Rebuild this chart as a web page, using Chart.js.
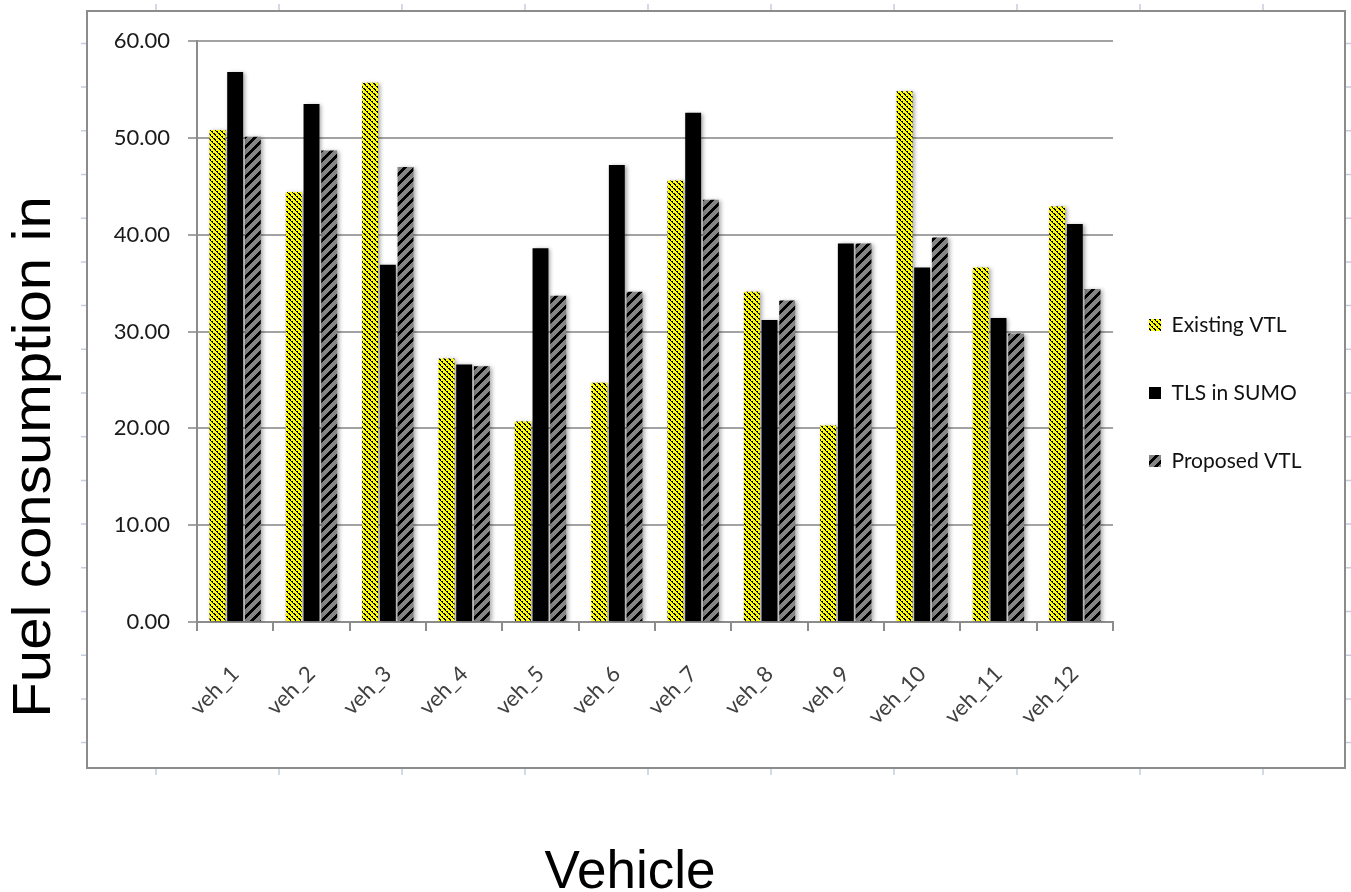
<!DOCTYPE html>
<html>
<head>
<meta charset="utf-8">
<script src="https://cdn.jsdelivr.net/npm/chart.js@4.4.1/dist/chart.umd.min.js"></script>
<style>
  html, body { margin: 0; padding: 0; background: #ffffff; }
  #wrap { width: 1351px; height: 892px; }
</style>
</head>
<body>
<div id="wrap"><canvas id="chart" width="1351" height="892"></canvas></div>
<script>
// Fuel consumption per vehicle for three traffic-light schemes
const vehicles = ['veh_1', 'veh_2', 'veh_3', 'veh_4', 'veh_5', 'veh_6',
                  'veh_7', 'veh_8', 'veh_9', 'veh_10', 'veh_11', 'veh_12'];
const existingVTL = [50.8, 44.4, 55.7, 27.2, 20.7, 24.7, 45.6, 34.1, 20.3, 54.8, 36.6, 42.9];
const tlsInSumo   = [56.8, 53.5, 36.9, 26.6, 38.6, 47.2, 52.6, 31.2, 39.1, 36.6, 31.4, 41.1];
const proposedVTL = [50.1, 48.7, 47.0, 26.4, 33.7, 34.1, 43.6, 33.2, 39.1, 39.7, 29.8, 34.4];
const seriesNames = ['Existing VTL', 'TLS in SUMO', 'Proposed VTL'];
const yTicks = [0, 10, 20, 30, 40, 50, 60];

const xTitle = 'Vehicle';
const yTitle = 'Fuel consumption in';
const tickFont = 'Lato';
const tickSize = 22;
const legendSize = 21;

// Hatch fills
function makeTile(size, bg, isInk) {
  const c = document.createElement('canvas');
  c.width = size; c.height = size;
  const g = c.getContext('2d');
  g.fillStyle = bg; g.fillRect(0, 0, size, size);
  g.fillStyle = '#000000';
  for (let y = 0; y < size; y++) {
    for (let x = 0; x < size; x++) {
      if (isInk(x, y)) g.fillRect(x, y, 1, 1);
    }
  }
  return g.createPattern(c, 'repeat');
}
const ctx = document.getElementById('chart').getContext('2d');
// dense "\" hatch on yellow
const yellowHatch = makeTile(5, '#ffff00', (x, y) => {
  const d = (x - y + 10) % 5;
  return d === 0 || (d === 1 && x % 2 === 0);
});
// wide "/" hatch on grey
const greyHatch = makeTile(10, '#858585', (x, y) => ((x + y) % 10) < 4);

// legend geometry
const legendPad = 47;
const legendBox = 12;
const mctx = document.createElement('canvas').getContext('2d');
mctx.font = legendSize + 'px ' + tickFont;
const widest = Math.max(...seriesNames.map(s => mctx.measureText(s).width));
const legendWidth = legendPad + legendBox + legendSize / 2 + widest + 10;
const plotRight = 1113;
const rightPad = Math.max(0, 1351 - plotRight - legendWidth);

// Page frame, outer tick marks and axis titles
const framePlugin = {
  id: 'frame',
  beforeDraw(chart) {
    const c = chart.ctx;
    c.save();
    c.fillStyle = '#ffffff';
    c.fillRect(0, 0, chart.width, chart.height);
    c.strokeStyle = '#c5cedd';
    c.lineWidth = 1.5;
    c.beginPath();
    for (let x = 156; x < 1345; x += 123) {
      c.moveTo(x, 4); c.lineTo(x, 10);
      c.moveTo(x, 768); c.lineTo(x, 775);
    }
    for (let y = 43.4; y < 768; y += 43.7) {
      c.moveTo(81, y); c.lineTo(87, y);
      c.moveTo(1345, y); c.lineTo(1351, y);
    }
    c.stroke();
    c.strokeStyle = '#8c8c8c';
    c.lineWidth = 2;
    c.strokeRect(87, 11, 1258, 757);
    c.restore();
  },
  afterDraw(chart) {
    const c = chart.ctx;
    c.save();
    c.fillStyle = '#000000';
    c.font = '53px "Liberation Sans", Arial, sans-serif';
    c.textAlign = 'center';
    c.textBaseline = 'alphabetic';
    c.fillText(xTitle, 630, 888);
    c.translate(50, 457);
    c.rotate(-Math.PI / 2);
    c.scale(1.1, 1);
    c.fillText(yTitle, 0, 0);
    c.restore();
  }
};

// Soft drop shadow behind the bars
const shadowPlugin = {
  id: 'barShadow',
  beforeDatasetsDraw(chart) {
    const c = chart.ctx;
    c.save();
    c.shadowColor = 'rgba(0,0,0,0.35)';
    c.shadowBlur = 4;
    c.shadowOffsetX = 2;
    c.shadowOffsetY = 1;
  },
  afterDatasetsDraw(chart) {
    chart.ctx.restore();
  }
};

// Legend sits slightly inside the plot's right edge
const legendShift = {
  id: 'legendShift',
  afterLayout(chart) {
    if (chart.legend) {
      chart.legend.left -= 11;
      chart.legend.right -= 11;
    }
  }
};

const fills = [yellowHatch, '#000000', greyHatch];
const values = [existingVTL, tlsInSumo, proposedVTL];

new Chart(ctx, {
  type: 'bar',
  data: {
    labels: vehicles,
    datasets: seriesNames.map((name, i) => ({
      label: name,
      data: values[i],
      backgroundColor: fills[i],
      borderWidth: 0,
      categoryPercentage: 0.695,
      barPercentage: 0.9
    }))
  },
  options: {
    responsive: false,
    animation: false,
    devicePixelRatio: 1,
    layout: { padding: { left: 87, top: 41, bottom: 147, right: rightPad } },
    plugins: {
      tooltip: { enabled: false },
      title: { display: false },
      legend: {
        position: 'right',
        align: 'center',
        labels: {
          boxWidth: legendBox,
          boxHeight: legendBox,
          padding: legendPad,
          color: '#111111',
          font: { family: tickFont, size: legendSize }
        }
      }
    },
    scales: {
      x: {
        offset: true,
        grid: {
          offset: true,
          drawOnChartArea: false,
          drawTicks: true,
          tickLength: 9,
          color: '#8c8c8c',
          lineWidth: 2
        },
        border: { display: true, color: '#8c8c8c', width: 2 },
        ticks: {
          minRotation: 45,
          maxRotation: 45,
          padding: 30,
          color: '#404040',
          font: { family: tickFont, size: tickSize }
        },
        afterFit(scale) { scale.height = 892 - 147 - 622; }
      },
      y: {
        min: 0,
        max: 60,
        afterBuildTicks(scale) { scale.ticks = yTicks.map(v => ({ value: v })); },
        grid: {
          color: '#a3a3a3',
          lineWidth: 2,
          tickLength: 9,
          drawTicks: true
        },
        border: { display: true, color: '#8c8c8c', width: 2 },
        ticks: {
          padding: 18,
          color: '#1a1a1a',
          font: { family: tickFont, size: tickSize },
          callback: v => Number(v).toFixed(2)
        },
        afterFit(scale) { scale.width = 110; }
      }
    }
  },
  plugins: [framePlugin, shadowPlugin, legendShift]
});
</script>
</body>
</html>
